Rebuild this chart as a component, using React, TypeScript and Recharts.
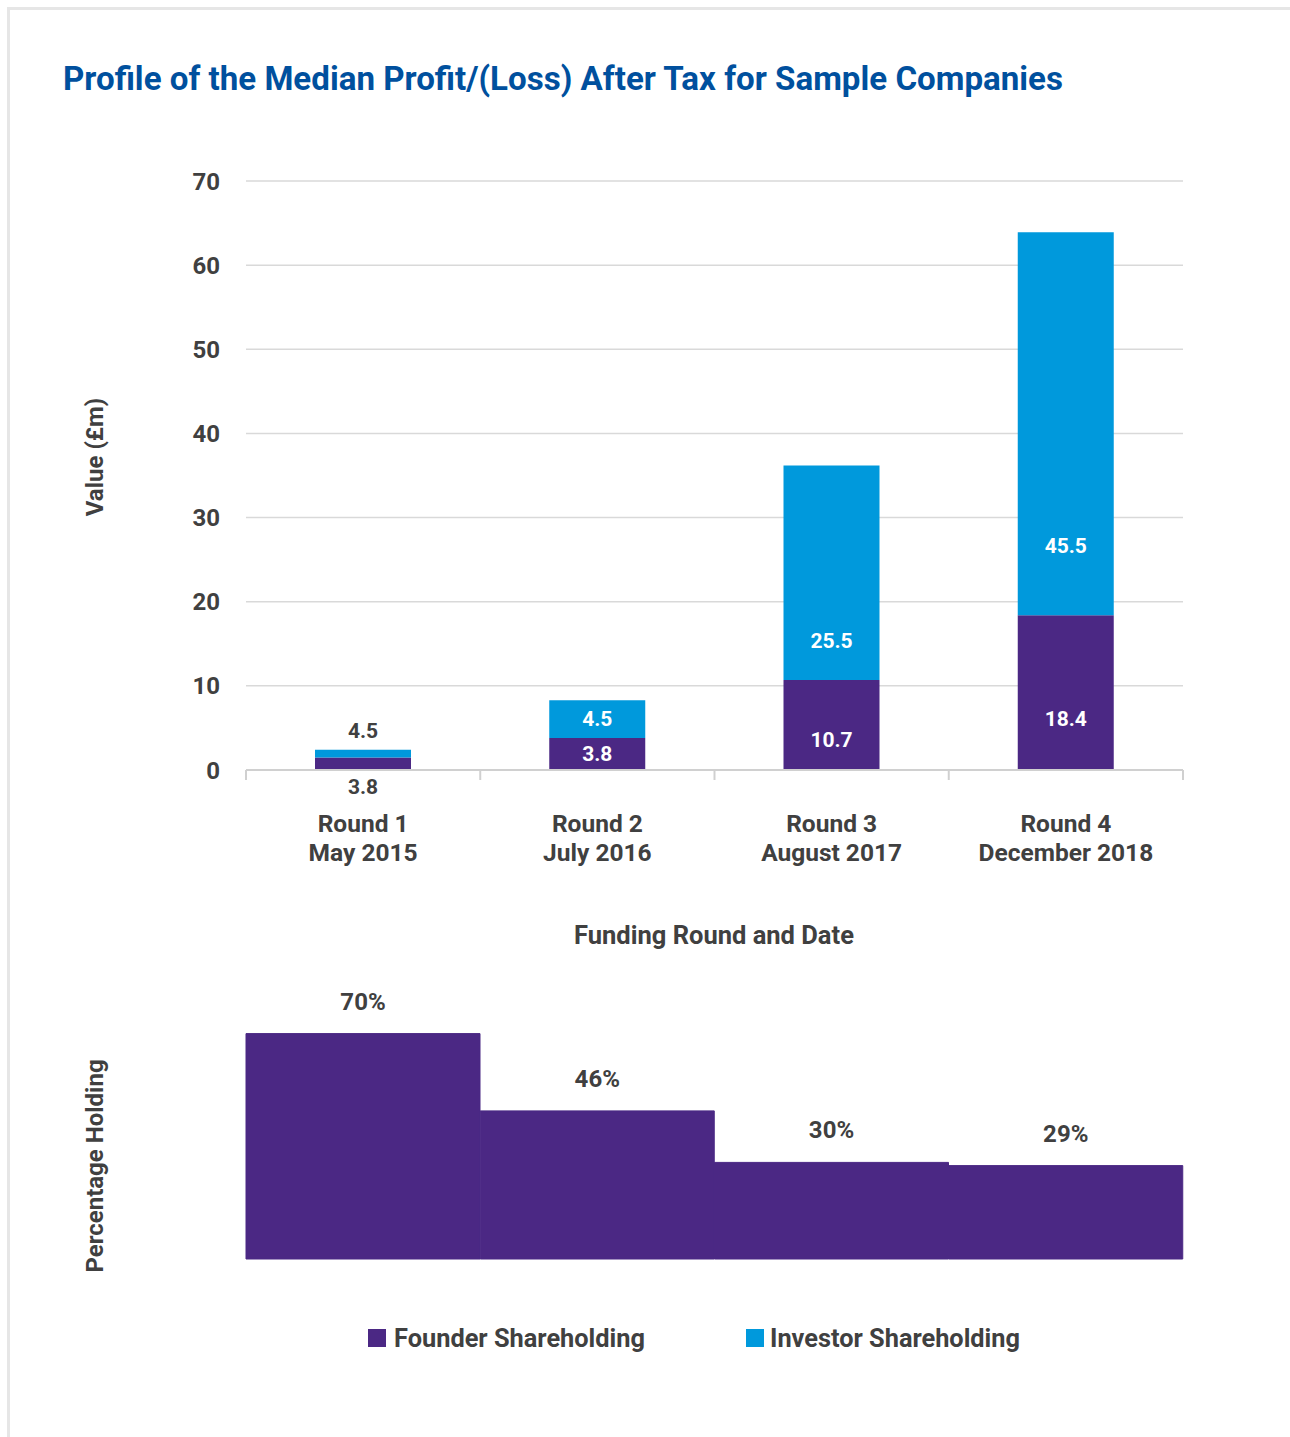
import { BarChart, Bar, XAxis, YAxis, CartesianGrid, LabelList, Label } from "recharts";

const rounds = ["Round 1", "Round 2", "Round 3", "Round 4"];
const dates = ["May 2015", "July 2016", "August 2017", "December 2018"];
// bar heights as drawn in the picture (round 1 is drawn shorter than its labels say)
const founderValues = [1.5, 3.8, 10.7, 18.4];
const investorValues = [0.9, 4.5, 25.5, 45.5];
const founderLabels = ["3.8", "3.8", "10.7", "18.4"];
const investorLabels = ["4.5", "4.5", "25.5", "45.5"];
const founderHolding = [70, 46, 30, 29];
const valueTicks = [0, 10, 20, 30, 40, 50, 60, 70];

const FOUNDER = "#4b2884";
const INVESTOR = "#0099dc";
const TEXT = "#404040";
const FONT = "Roboto, 'Liberation Sans', Arial, sans-serif";

const valueData = rounds.map((r, i) => ({
  round: r,
  date: dates[i],
  founder: founderValues[i],
  investor: investorValues[i],
}));

const holdingData = rounds.map((r, i) => ({ round: r, founder: founderHolding[i] }));

const CategoryTick = (props: any) => {
  const { x, y, payload, index } = props;
  const half = payload?.offset || 117;
  return (
    <g>
      <line x1={x - half} x2={x - half} y1={y} y2={y + 10} stroke="#d0d0d0" strokeWidth={2} />
      {index === rounds.length - 1 && (
        <line x1={x + half} x2={x + half} y1={y} y2={y + 10} stroke="#d0d0d0" strokeWidth={2} />
      )}
      <text x={x} y={y + 53} textAnchor="middle" dominantBaseline="central" fill={TEXT} fontSize={24.5} fontWeight={700} fontFamily={FONT}>
        {payload.value}
      </text>
      <text x={x} y={y + 82} textAnchor="middle" dominantBaseline="central" fill={TEXT} fontSize={24.5} fontWeight={700} fontFamily={FONT}>
        {dates[index]}
      </text>
    </g>
  );
};

// label placement inside stacked segments; tiny segments get their label outside
const makeSegmentLabel = (labels: string[], isBase: boolean) => (props: any) => {
  const { x, y, width, height, index } = props;
  const cx = x + width / 2;
  let cy: number;
  let fill = "#ffffff";
  if (height < 20) {
    fill = TEXT;
    cy = isBase ? y + height + 17 : y - 19;
  } else if (height < 60) {
    cy = y + height / 2;
  } else {
    cy = isBase ? y + height * 0.67 : y + height * 0.82;
  }
  return (
    <text x={cx} y={cy} textAnchor="middle" dominantBaseline="central" fill={fill} fontSize={21} fontWeight={700} fontFamily={FONT}>
      {labels[index]}
    </text>
  );
};

export default function App() {
  return (
    <div style={{ position: "absolute", left: 0, top: 0, width: 1290, height: 1437, background: "#fff", overflow: "hidden" }}>
      <div style={{ position: "absolute", left: 7, top: 7, width: 1300, height: 1450, borderTop: "3px solid #e6e6e6", borderLeft: "3px solid #e6e6e6" }} />

      <div style={{ position: "absolute", left: 0, top: 0 }}>
        <BarChart width={1290} height={960} data={valueData} margin={{ top: 181, right: 107, left: 0, bottom: 0 }} barSize={96}>
          <CartesianGrid vertical={false} stroke="#d9d9d9" strokeWidth={1.5} />
          <XAxis
            dataKey="round"
            height={190}
            tickSize={0}
            tickMargin={0}
            tickLine={false}
            axisLine={{ stroke: "#d0d0d0", strokeWidth: 2 }}
            tick={<CategoryTick />}
            interval={0}
          >
            <Label
              content={() => (
                <text x={714} y={935} textAnchor="middle" dominantBaseline="central" fill={TEXT} fontSize={25.5} fontWeight={700} fontFamily={FONT}>
                  Funding Round and Date
                </text>
              )}
            />
          </XAxis>
          <YAxis
            width={246}
            domain={[0, 70]}
            ticks={valueTicks}
            tickLine={false}
            axisLine={false}
            tickSize={0}
            tickMargin={26}
            tick={{ fill: TEXT, fontSize: 24, fontWeight: 700, fontFamily: FONT }}
          >
            <Label
              content={() => (
                <text x={95} y={457} transform="rotate(-90 95 457)" textAnchor="middle" dominantBaseline="central" fill={TEXT} fontSize={24} fontWeight={700} fontFamily={FONT}>
                  Value (£m)
                </text>
              )}
            />
          </YAxis>
          <Bar dataKey="founder" stackId="a" fill={FOUNDER} isAnimationActive={false}>
            <LabelList dataKey="founder" content={makeSegmentLabel(founderLabels, true)} />
          </Bar>
          <Bar dataKey="investor" stackId="a" fill={INVESTOR} isAnimationActive={false}>
            <LabelList dataKey="investor" content={makeSegmentLabel(investorLabels, false)} />
          </Bar>
        </BarChart>
      </div>

      <div style={{ position: "absolute", left: 0, top: 900 }}>
        <BarChart width={1290} height={380} data={holdingData} margin={{ top: 37, right: 107, left: 0, bottom: 21 }} barCategoryGap={0}>
          <XAxis dataKey="round" hide />
          <YAxis width={246} domain={[0, 100]} tick={false} tickLine={false} axisLine={false}>
            <Label
              content={() => (
                <text x={95} y={266} transform="rotate(-90 95 266)" textAnchor="middle" dominantBaseline="central" fill={TEXT} fontSize={24} fontWeight={700} fontFamily={FONT}>
                  Percentage Holding
                </text>
              )}
            />
          </YAxis>
          <Bar dataKey="founder" fill={FOUNDER} stroke={FOUNDER} strokeWidth={1} isAnimationActive={false}>
            <LabelList
              dataKey="founder"
              position="top"
              offset={24}
              formatter={(v: any) => `${v}%`}
              style={{ fill: TEXT, fontSize: 24, fontWeight: 700, fontFamily: FONT, stroke: "none" }}
            />
          </Bar>
        </BarChart>
      </div>

      <svg style={{ position: "absolute", left: 0, top: 0 }} width={1290} height={1437} pointerEvents="none">
        <text x={63} y={90} textLength={1000} lengthAdjust="spacingAndGlyphs" fill="#00509e" fontSize={34} fontWeight={700} fontFamily={FONT}>
          Profile of the Median Profit/(Loss) After Tax for Sample Companies
        </text>
        <rect x={368} y={1329} width={18} height={18} fill={FOUNDER} />
        <text x={394} y={1347} textLength={251} lengthAdjust="spacingAndGlyphs" fill={TEXT} fontSize={25} fontWeight={700} fontFamily={FONT}>
          Founder Shareholding
        </text>
        <rect x={746} y={1329} width={18} height={18} fill={INVESTOR} />
        <text x={770} y={1347} textLength={250} lengthAdjust="spacingAndGlyphs" fill={TEXT} fontSize={25} fontWeight={700} fontFamily={FONT}>
          Investor Shareholding
        </text>
      </svg>
    </div>
  );
}
